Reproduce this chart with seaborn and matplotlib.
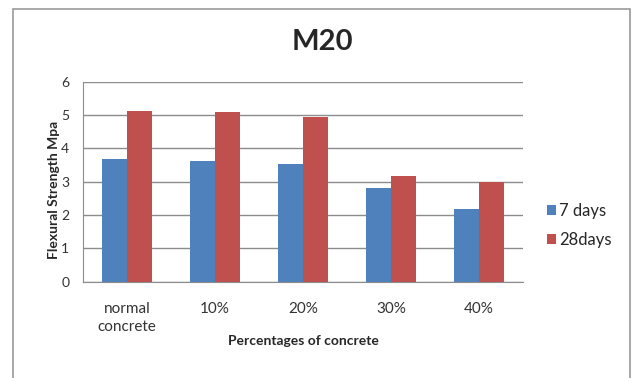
import matplotlib
matplotlib.use("Agg")
import matplotlib.pyplot as plt
import seaborn as sns
import pandas as pd
from matplotlib.patches import Rectangle

# data
categories = ["normal\nconcrete", "10%", "20%", "30%", "40%"]
days_7 = [3.67, 3.63, 3.52, 2.82, 2.19]
days_28 = [5.12, 5.08, 4.95, 3.17, 2.99]
series = ["7 days", "28days"]

df = pd.DataFrame({
    "category": categories * 2,
    "value": days_7 + days_28,
    "series": [series[0]] * len(categories) + [series[1]] * len(categories),
})

sns.set_style("white")
plt.rcParams['font.family'] = ['Lato', 'DejaVu Sans']

fig = plt.figure(figsize=(6.34, 3.78), dpi=100)
ax = fig.add_axes([0.131, 0.255, 0.694, 0.529])

sns.barplot(data=df, x="category", y="value", hue="series",
            palette=["#4F81BD", "#C0504D"], width=0.57,
            saturation=1, linewidth=0, ax=ax, legend=True)

ax.set_ylim(0, 6)
ax.set_xlim(-0.5, 4.5)
ax.set_yticks(range(0, 7))
ax.yaxis.grid(True, color="#8c8c8c", linewidth=1)
ax.set_axisbelow(True)
for s in ["top", "right"]:
    ax.spines[s].set_visible(False)
ax.spines["left"].set_color("#8c8c8c")
ax.spines["bottom"].set_color("#8c8c8c")
ax.tick_params(axis="y", length=4, color="#8c8c8c", labelsize=10, pad=6, labelcolor="#333333")
ax.tick_params(axis="x", length=0, labelsize=11, pad=15, labelcolor="#333333")
for t in ax.get_xticklabels():
    t.set_linespacing(1.3)

ax.set_xlabel("Percentages of concrete", fontsize=10, fontweight="bold", labelpad=1)
ax.set_ylabel("Flexural Strength Mpa", fontsize=10, fontweight="bold")
ax.yaxis.set_label_coords(-0.052, 0.46)
fig.text(0.508, 0.888, "M20", ha="center", va="center", fontsize=21, fontweight="bold")

sns.move_legend(ax, "center left", bbox_to_anchor=(1.02, 0.28), frameon=False,
                title=None, fontsize=12, handlelength=0.55, handleheight=0.55,
                handletextpad=0.2, labelspacing=0.8)

# outer chart border
fig.patches.append(Rectangle((13 / 634, -0.05), 617 / 634, 1 - 9 / 378 + 0.05,
                             transform=fig.transFigure, fill=False,
                             edgecolor="#999999", linewidth=1.2))

fig.savefig("out.png", dpi=100)
